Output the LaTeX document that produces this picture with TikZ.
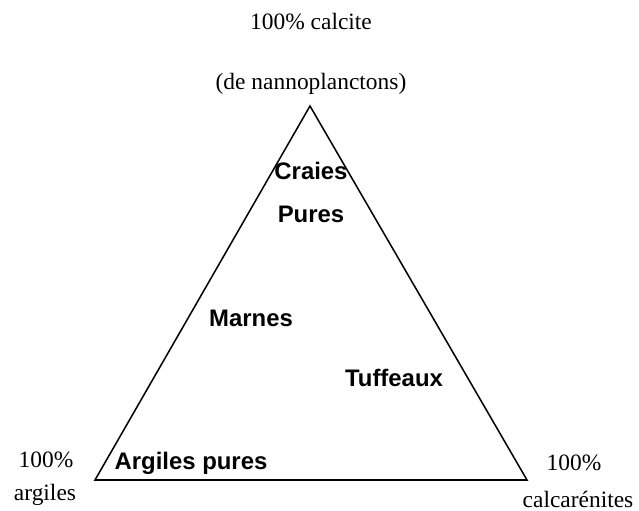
\documentclass[tikz,border=0pt]{standalone}
\usepackage{fontspec}
\setmainfont{Liberation Serif}
\newfontfamily\arialfont{Liberation Sans}
\usetikzlibrary{positioning}
\tikzset{
    pole/.style={
        font=\fontsize{20}{22}\selectfont,
        inner sep=0pt,
        align=center
    },
    zone/.style={
        font=\arialfont\bfseries\fontsize{20.4}{22}\selectfont,
        inner sep=1pt
    },
    edge/.style={
        line width=1.3pt,
        line join=miter
    }
}

\begin{document}
\begin{tikzpicture}[x=0.03cm,y=-0.03cm]
          \useasboundingbox (0,0) rectangle (639,511);
          \coordinate (apex) at (310,106);
          \coordinate (leftc) at (95,480);
          \coordinate (rightc) at (527,480);
          \draw [edge] (apex) -- (leftc) -- (rightc) -- cycle;
          % poles
          \node (calcite) [pole] at (311,22) {100\% calcite};
          \node (nanno) [pole] at (311,84) {(de nannoplanctons)};
          \node (argpct) [pole] at (46,460) {100\%};
          \node (argiles) [pole] at (45,495) {argiles};
          \node (calcpct) [pole] at (574,463) {100\%};
          \node (calcar) [pole] at (578,499) {calcarénites};
          % zones
          \node (craies) [zone] at (311,171) {Craies};
          \node (pures) [zone] at (311,214) {Pures};
          \node (marnes) [zone] at (251,318) {Marnes};
          \node (tuffeaux) [zone] at (394,378) {Tuffeaux};
          \node (argpures) [zone] at (191,463) {Argiles pures};
\end{tikzpicture}
\end{document}
